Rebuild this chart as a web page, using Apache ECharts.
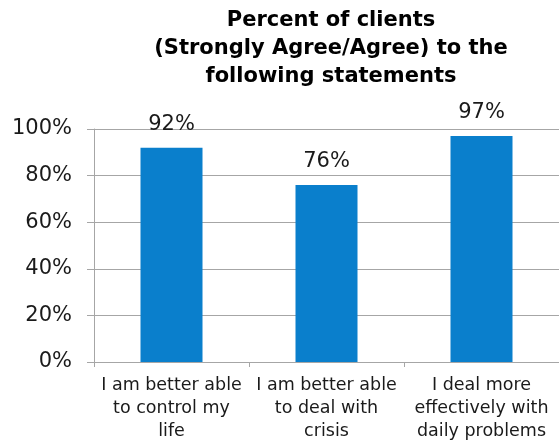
<!DOCTYPE html>
<html>
<head>
<meta charset="utf-8">
<script src="https://cdn.jsdelivr.net/npm/echarts@6/dist/echarts.min.js"></script>
<style>
	html, body { margin: 0; padding: 0; background: #fff; }
	#chart { width: 559px; height: 444px; }
</style>
</head>
<body>
<div id="chart"></div>
<script>
// 分类（x 轴）
const categories = [
	"I am better able\nto control my\nlife",
	"I am better able\nto deal with\ncrisis",
	"I deal more\neffectively with\ndaily problems"
];
// 百分比数值
const percentValues = [92, 76, 97];
// y 轴刻度
const yTicks = [0, 20, 40, 60, 80, 100];

const titleText = "Percent of clients\n(Strongly Agree/Agree) to the\nfollowing statements";

let myChart = echarts.init(document.getElementById("chart"));
myChart.setOption({
	animation: false,
	title: {
		text: titleText,
		left: 326,
		top: 2,
		textAlign: "center",
		textStyle: {
			fontFamily: "DejaVu Sans",
			fontSize: 21,
			fontWeight: "bold",
			color: "#000",
			lineHeight: 28,
		},
	},
	grid: {
		left: 94,
		right: 0,
		top: 129,
		bottom: 82,
	},
	xAxis: {
		type: "category",
		data: categories,
		axisLine: {
			show: true,
			lineStyle: { color: "#a6a6a6", width: 1 },
		},
		axisTick: {
			show: true,
			length: 5,
			lineStyle: { color: "#a6a6a6" },
		},
		axisLabel: {
			interval: 0,
			margin: 12,
			fontFamily: "DejaVu Sans",
			fontSize: 17.5,
			lineHeight: 23,
			color: "#1a1a1a",
		},
	},
	yAxis: {
		type: "value",
		min: yTicks[0],
		max: yTicks[yTicks.length - 1],
		interval: 20,
		axisLine: {
			show: true,
			lineStyle: { color: "#a6a6a6", width: 1 },
		},
		axisTick: {
			show: true,
			length: 7,
			lineStyle: { color: "#a6a6a6" },
		},
		splitLine: {
			show: true,
			lineStyle: { color: "#a6a6a6", width: 1 },
		},
		axisLabel: {
			margin: 22,
			fontFamily: "DejaVu Sans",
			fontSize: 21,
			color: "#1a1a1a",
			formatter: "{value}%",
		},
	},
	series: [
		{
			type: "bar",
			data: percentValues,
			barWidth: "40%",
			itemStyle: { color: "#0a7fcc" },
			label: {
				show: true,
				position: "top",
				distance: 13,
				fontFamily: "DejaVu Sans",
				fontSize: 21,
				color: "#1a1a1a",
				formatter: "{c}%",
			},
		},
	],
});
</script>
</body>
</html>
